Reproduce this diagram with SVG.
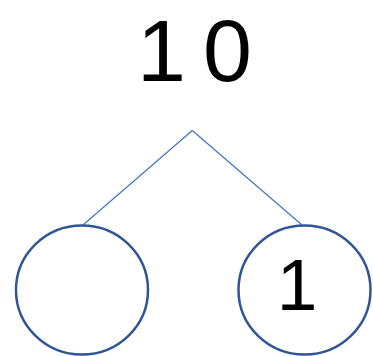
<svg xmlns="http://www.w3.org/2000/svg" width="373" height="356" viewBox="0 0 373 356">
<style>
.num{font-family:"Liberation Sans",Arial,sans-serif;fill:#000;}
.node{fill:#fff;stroke:#2F5597;stroke-width:2.5;}
.conn{stroke:#4472C4;stroke-width:1.2;fill:none;}
</style>
<rect width="373" height="356" fill="#fff"/>
<g id="connectors">
<line class="conn" x1="192.3" y1="130.5" x2="83" y2="225"/>
<line class="conn" x1="192.3" y1="130.5" x2="302" y2="225"/>
</g>
<g id="top">
<text class="num" x="137 203" y="81" font-size="88">10</text>
</g>
<g id="left">
<ellipse class="node" cx="82" cy="290" rx="66" ry="64.5"/>
</g>
<g id="right">
<ellipse class="node" cx="304.5" cy="290" rx="66" ry="64.5"/>
<text class="num" x="297" y="310" font-size="73" text-anchor="middle">1</text>
</g>
</svg>
